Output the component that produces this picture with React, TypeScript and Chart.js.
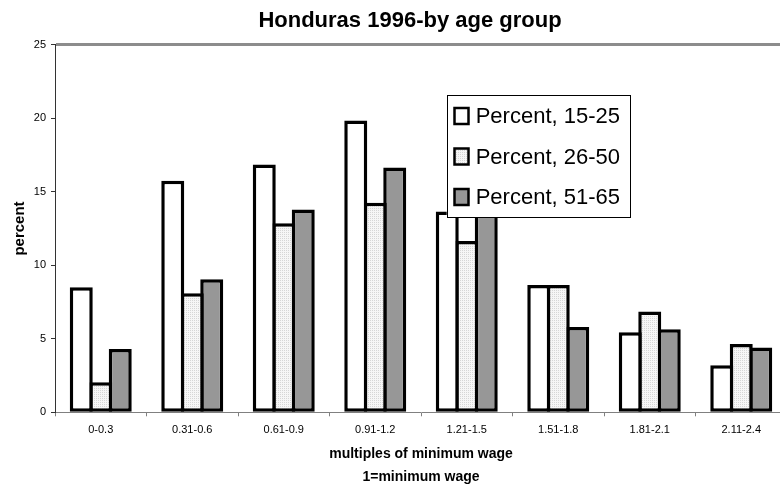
import React, { useEffect, useRef } from "react";
import { Chart, registerables } from "chart.js";

Chart.register(...registerables);

const TITLE = "Honduras 1996-by age group";
const CATEGORIES = ["0-0.3", "0.31-0.6", "0.61-0.9", "0.91-1.2", "1.21-1.5", "1.51-1.8", "1.81-2.1", "2.11-2.4"];
const SERIES_NAMES = ["Percent, 15-25", "Percent, 26-50", "Percent, 51-65"];
const AGE_15_25 = [8.5, 15.75, 16.85, 19.85, 13.65, 8.65, 5.45, 3.2];
const AGE_26_50 = [2.05, 8.1, 12.85, 14.25, 11.65, 8.65, 6.85, 4.65];
const AGE_51_65 = [4.3, 9.05, 13.8, 16.65, 14.3, 5.8, 5.65, 4.4];
const Y_TITLE = "percent";
const X_TITLE = ["multiples of minimum wage", "1=minimum wage"];
const Y_MIN = 0;
const Y_MAX = 25;
const Y_STEP = 5;

const FONT = "'Liberation Sans', Arial, Helvetica, sans-serif";

function makeDotPattern(): CanvasPattern | string {
  const c = document.createElement("canvas");
  c.width = 2;
  c.height = 2;
  const g = c.getContext("2d");
  if (!g) return "#e8e8e8";
  g.fillStyle = "#f6f6f6";
  g.fillRect(0, 0, 2, 2);
  g.fillStyle = "#d6d6d6";
  g.fillRect(0, 0, 1, 1);
  const p = g.createPattern(c, "repeat");
  return p || "#e8e8e8";
}

const titlePlugin = {
  id: "topTitle",
  afterDraw(chart: any) {
    const { ctx, width } = chart;
    ctx.save();
    ctx.font = `bold 22px ${FONT}`;
    ctx.fillStyle = "#000";
    ctx.textAlign = "center";
    ctx.textBaseline = "middle";
    ctx.fillText(TITLE, width / 2, 20.5);
    ctx.restore();
  },
};

const insideLegend = {
  id: "insideLegend",
  afterDraw(chart: any) {
    const { ctx, chartArea } = chart;
    const x0 = chartArea.left + 391.7;
    const y0 = chartArea.top + 50.6;
    const w = 182.6;
    const h = 122.4;
    ctx.save();
    ctx.fillStyle = "#fff";
    ctx.fillRect(x0, y0, w, h);
    ctx.strokeStyle = "#000";
    ctx.lineWidth = 1;
    ctx.strokeRect(Math.round(x0) + 0.5, Math.round(y0) + 0.5, Math.round(w), Math.round(h));
    ctx.font = `22px ${FONT}`;
    ctx.textBaseline = "middle";
    ctx.textAlign = "left";
    chart.data.datasets.forEach((ds: any, i: number) => {
      const cy = y0 + 20.7 + i * 40.5;
      const sx = x0 + 7.8;
      const sw = 14;
      const sh = 16;
      ctx.fillStyle = ds.backgroundColor;
      ctx.fillRect(sx, cy - sh / 2, sw, sh);
      ctx.strokeStyle = "#000";
      ctx.lineWidth = 2.5;
      ctx.strokeRect(sx, cy - sh / 2, sw, sh);
      ctx.fillStyle = "#000";
      ctx.fillText(ds.label, x0 + 29, cy + 1);
    });
    ctx.restore();
  },
};

export default function App() {
  const ref = useRef<HTMLCanvasElement | null>(null);

  useEffect(() => {
    document.body.style.margin = "0";
    document.body.style.overflow = "hidden";
    document.documentElement.style.overflow = "hidden";
    const canvas = ref.current;
    if (!canvas) return;
    const dots = makeDotPattern();
    const chart = new Chart(canvas, {
      type: "bar",
      data: {
        labels: CATEGORIES,
        datasets: [
          { label: SERIES_NAMES[0], data: AGE_15_25, backgroundColor: "#ffffff" },
          { label: SERIES_NAMES[1], data: AGE_26_50, backgroundColor: dots as any },
          { label: SERIES_NAMES[2], data: AGE_51_65, backgroundColor: "#979797" },
        ].map((d) => ({
          ...d,
          borderColor: "#000",
          borderWidth: 3.5,
          borderSkipped: false,
          categoryPercentage: 0.639,
          barPercentage: 1.18,
        })),
      },
      options: {
        responsive: false,
        animation: false,
        devicePixelRatio: 1,
        layout: { padding: { left: 0, right: 33, top: 44.7, bottom: 0 } },
        plugins: {
          legend: { display: false },
          title: { display: false },
          tooltip: { enabled: false },
        },
        scales: {
          x: {
            afterFit(scale: any) {
              scale.height = 74.7;
            },
            grid: {
              offset: true,
              drawOnChartArea: false,
              drawTicks: true,
              tickLength: 4,
              tickColor: "#808080",
              tickWidth: 1,
            },
            border: { display: true, color: "#808080", width: 1 },
            ticks: {
              color: "#000",
              font: { family: FONT, size: 11 },
              padding: 7,
              maxRotation: 0,
              autoSkip: false,
            },
            title: {
              display: true,
              text: X_TITLE,
              color: "#000",
              font: { family: FONT, size: 14, weight: "bold", lineHeight: 1.64 },
              padding: { top: 0, bottom: -2 },
            },
          },
          y: {
            min: Y_MIN,
            max: Y_MAX,
            afterFit(scale: any) {
              scale.width = 55;
            },
            grid: {
              drawOnChartArea: true,
              drawTicks: true,
              tickLength: 4,
              tickColor: "#333",
              tickWidth: 1,
              color: (c: any) => (c.tick && c.tick.value === Y_MAX ? "#8c8c8c" : "rgba(0,0,0,0)"),
              lineWidth: (c: any) => (c.tick && c.tick.value === Y_MAX ? 3 : 1),
            },
            border: { display: true, color: "#333", width: 1 },
            ticks: {
              stepSize: Y_STEP,
              color: "#000",
              font: { family: FONT, size: 11 },
              padding: 5,
            },
            title: {
              display: true,
              text: Y_TITLE,
              color: "#000",
              font: { family: FONT, size: 15, weight: "bold" },
              padding: { top: 11, bottom: 0 },
            },
          },
        },
      },
      plugins: [titlePlugin, insideLegend],
    } as any);
    return () => chart.destroy();
  }, []);

  return (
    <div style={{ width: 820, height: 487, overflow: "hidden" }}>
      <canvas ref={ref} width={820} height={487} style={{ display: "block" }} />
    </div>
  );
}
